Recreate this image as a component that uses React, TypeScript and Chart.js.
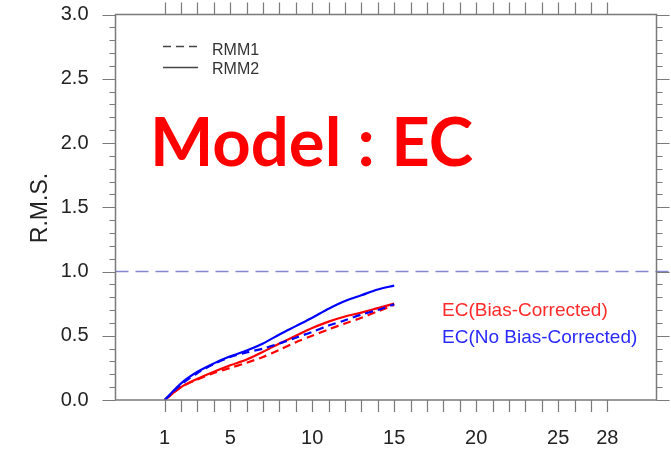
import React, { useEffect, useRef } from 'react';
import { Chart, registerables } from 'chart.js';

Chart.register(...registerables);

// Lead time (days)
const leadDays = [1, 2, 3, 4, 5, 6, 7, 8, 9, 10, 11, 12, 13, 14, 15];
// EC (Bias-Corrected)
const bcRmm1 = [0, 0.1, 0.16, 0.21, 0.25, 0.29, 0.335, 0.39, 0.45, 0.5, 0.55, 0.595, 0.64, 0.69, 0.74];
const bcRmm2 = [0, 0.1, 0.165, 0.22, 0.27, 0.315, 0.375, 0.44, 0.5, 0.56, 0.61, 0.65, 0.68, 0.715, 0.75];
// EC (No Bias-Corrected)
const nbcRmm1 = [0, 0.12, 0.21, 0.28, 0.335, 0.37, 0.4, 0.44, 0.485, 0.53, 0.58, 0.62, 0.665, 0.7, 0.745];
const nbcRmm2 = [0, 0.13, 0.22, 0.285, 0.34, 0.385, 0.44, 0.51, 0.575, 0.64, 0.71, 0.77, 0.815, 0.86, 0.89];

const xTickValues = [1, 2, 3, 4, 5, 6, 7, 8, 9, 10, 11, 12, 13, 14, 15, 16, 17, 18, 19, 20, 21, 22, 23, 24, 25, 26, 27, 28];
const xLabelValues = [1, 5, 10, 15, 20, 25, 28];
const yMajorTicks = [0, 0.5, 1.0, 1.5, 2.0, 2.5, 3.0];
const yMinorTicks = [0.1, 0.2, 0.3, 0.4, 0.6, 0.7, 0.8, 0.9, 1.1, 1.2, 1.3, 1.4, 1.6, 1.7, 1.8, 1.9, 2.1, 2.2, 2.3, 2.4, 2.6, 2.7, 2.8, 2.9];
const refLevel = 1.0;

const FONT = "'Liberation Sans', Arial, Helvetica, sans-serif";
const TITLE_FONT = "Lato, 'Open Sans', 'Liberation Sans', sans-serif";
const RED = '#ff0000';
const BLUE = '#0000ff';
const AXIS = '#7a7a7a';

const decorPlugin = {
  id: 'decor',
  beforeDatasetsDraw(chart: any) {
    const { ctx, chartArea, scales } = chart;
    const py = scales.y.getPixelForValue(refLevel);
    ctx.save();
    ctx.strokeStyle = '#8585d0';
    ctx.lineWidth = 1.5;
    ctx.setLineDash([13, 7]);
    ctx.beginPath();
    ctx.moveTo(chartArea.left, py);
    ctx.lineTo(chartArea.right + 12, py);
    ctx.stroke();
    ctx.restore();
  },
  afterDraw(chart: any) {
    const { ctx, chartArea, scales } = chart;
    const { left, right, top, bottom } = chartArea;
    ctx.save();
    // frame
    ctx.strokeStyle = AXIS;
    ctx.lineWidth = 1.5;
    ctx.strokeRect(left, top, right - left, bottom - top);
    ctx.lineWidth = 1.2;
    ctx.beginPath();
    xTickValues.forEach((v) => {
      const px = Math.round(scales.x.getPixelForValue(v)) + 0.5;
      ctx.moveTo(px, bottom);
      ctx.lineTo(px, bottom + 12);
      ctx.moveTo(px, top);
      ctx.lineTo(px, top - 12);
    });
    yMajorTicks.forEach((v) => {
      const py = Math.round(scales.y.getPixelForValue(v)) + 0.5;
      ctx.moveTo(left - 13, py);
      ctx.lineTo(left, py);
      ctx.moveTo(right, py);
      ctx.lineTo(right + 13, py);
    });
    yMinorTicks.forEach((v) => {
      const py = Math.round(scales.y.getPixelForValue(v)) + 0.5;
      ctx.moveTo(left - 6, py);
      ctx.lineTo(left, py);
      ctx.moveTo(right, py);
      ctx.lineTo(right + 6, py);
    });
    ctx.stroke();

    // y axis title
    ctx.save();
    ctx.translate(47, 208);
    ctx.rotate(-Math.PI / 2);
    ctx.fillStyle = '#222';
    ctx.font = `23px ${FONT}`;
    ctx.textAlign = 'center';
    ctx.textBaseline = 'alphabetic';
    ctx.fillText('R.M.S.', 0, 0);
    ctx.restore();

    // line-style legend
    ctx.strokeStyle = '#444';
    ctx.lineWidth = 1.5;
    ctx.setLineDash([8, 5]);
    ctx.beginPath();
    ctx.moveTo(163, 46.5);
    ctx.lineTo(198, 46.5);
    ctx.stroke();
    ctx.setLineDash([]);
    ctx.beginPath();
    ctx.moveTo(163, 67.5);
    ctx.lineTo(198, 67.5);
    ctx.stroke();
    ctx.fillStyle = '#333';
    ctx.font = `16px ${FONT}`;
    ctx.textAlign = 'left';
    ctx.textBaseline = 'alphabetic';
    ctx.fillText('RMM1', 212, 55);
    ctx.fillText('RMM2', 212, 74);

    // color legend
    ctx.font = `19px ${FONT}`;
    ctx.fillStyle = '#ff2a2a';
    ctx.fillText('EC(Bias-Corrected)', 442, 316);
    ctx.fillStyle = '#2a2aff';
    ctx.fillText('EC(No Bias-Corrected)', 442, 343);

    // big title
    ctx.font = `bold 67px ${TITLE_FONT}`;
    ctx.fillStyle = RED;
    const title = 'Model : EC';
    const w = ctx.measureText(title).width;
    ctx.save();
    ctx.translate(150, 166);
    ctx.scale(323 / w, 1);
    ctx.fillText(title, 0, 0);
    ctx.restore();

    ctx.restore();
  },
};

function series(values: number[]) {
  return leadDays.map((x, i) => ({ x, y: values[i] }));
}

export default function App() {
  const canvasRef = useRef<HTMLCanvasElement | null>(null);

  useEffect(() => {
    document.body.style.margin = '0';
    const canvas = canvasRef.current;
    if (!canvas) return;
    const chart = new Chart(canvas, {
      type: 'line',
      data: {
        datasets: [
          { label: 'NBC RMM2', data: series(nbcRmm2), borderColor: BLUE, borderWidth: 2.2, pointRadius: 0, tension: 0.3 },
          { label: 'NBC RMM1', data: series(nbcRmm1), borderColor: BLUE, borderWidth: 2.2, borderDash: [8, 5], pointRadius: 0, tension: 0.3 },
          { label: 'BC RMM2', data: series(bcRmm2), borderColor: RED, borderWidth: 2.2, pointRadius: 0, tension: 0.3 },
          { label: 'BC RMM1', data: series(bcRmm1), borderColor: RED, borderWidth: 2.2, borderDash: [8, 5], pointRadius: 0, tension: 0.3 },
        ],
      },
      options: {
        animation: false,
        responsive: false,
        maintainAspectRatio: false,
        layout: { padding: { top: 14.5, right: 14.5, left: 0, bottom: 0 } },
        plugins: { legend: { display: false }, tooltip: { enabled: false } },
        scales: {
          x: {
            type: 'linear',
            position: 'bottom',
            min: -2,
            max: 31,
            afterBuildTicks: (s: any) => {
              s.ticks = xLabelValues.map((v) => ({ value: v }));
            },
            afterFit: (s: any) => {
              s.height = 51;
              s.paddingLeft = 0;
              s.paddingRight = 0;
            },
            ticks: {
              autoSkip: false,
              maxRotation: 0,
              padding: 18,
              color: '#222',
              font: { family: FONT, size: 20 },
              callback: (v: any) => String(v),
            },
            grid: { display: false },
            border: { display: false },
          },
          y: {
            type: 'linear',
            position: 'left',
            min: 0,
            max: 3,
            afterBuildTicks: (s: any) => {
              s.ticks = yMajorTicks.map((v) => ({ value: v }));
            },
            afterFit: (s: any) => {
              s.width = 115.5;
              s.paddingTop = 0;
              s.paddingBottom = 0;
            },
            ticks: {
              padding: 19,
              color: '#222',
              font: { family: FONT, size: 20 },
              callback: (v: any) => Number(v).toFixed(1),
            },
            grid: { display: false },
            border: { display: false },
          },
        },
      },
      plugins: [decorPlugin],
    } as any);
    return () => chart.destroy();
  }, []);

  return (
    <div style={{ position: 'absolute', left: 0, top: 0, width: 671, height: 451, background: '#fff' }}>
      <canvas ref={canvasRef} width={671} height={451} style={{ display: 'block', width: 671, height: 451 }} />
    </div>
  );
}
